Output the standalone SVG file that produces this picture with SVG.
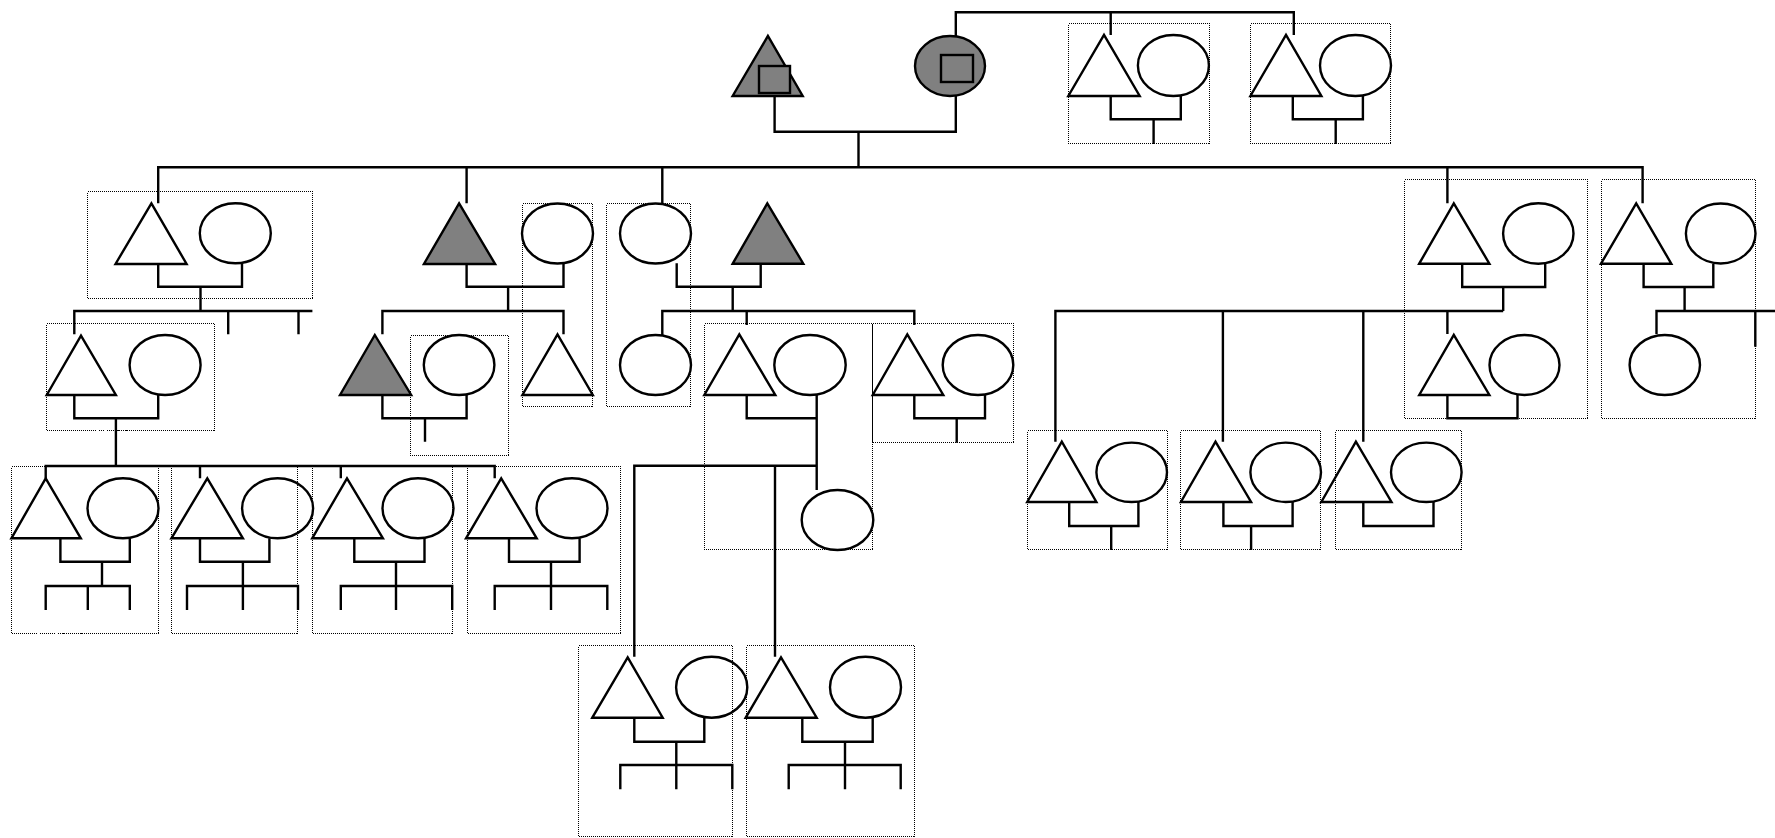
<svg xmlns="http://www.w3.org/2000/svg" width="1775" height="838" viewBox="0 0 1775 838">
<style>
.m{fill:none;stroke:#000;stroke-width:2.4;stroke-linejoin:miter}
.f{fill:#808080;stroke:#000;stroke-width:2.4}
.l{fill:none;stroke:#000;stroke-width:2.4;stroke-linecap:butt}
.d{fill:none;stroke:#000;stroke-width:1;stroke-dasharray:1 1;shape-rendering:crispEdges}
</style>
<rect width="1775" height="838" fill="#fff"/>
<g id="connectors" class="l">
<path d="M774.6,96 V131.7 H955.8 V96 M858.5,131.7 V167.3"/>
<path d="M955.8,36 V12.3 H1293.8 V35 M1110.7,12.3 V35"/>
<path d="M1110.7,96 V119.3 H1180.8 V96 M1153.6,119.3 V144"/>
<path d="M1292.8,96 V119.3 H1362.9 V96 M1335.7,119.3 V144"/>
<path d="M158.2,203.3 V167.3 H1642.6 V203.3 M466.6,167.3 V203.3 M662.3,167.3 V203.3 M1447.4,167.3 V203.3"/>
<path d="M158.2,264 V286.7 H242 V263.3 M200.5,286.7 V311"/>
<path d="M74.3,334.3 V311 H312.4 M228.2,311 V334.3 M298.5,311 V334.3"/>
<path d="M74.3,395 V418.3 H158.2 V395 M115.9,418.3 V466"/>
<path d="M45.7,478.3 V466 H494.7 V478.3 M200,466 V478.3 M340.8,466 V478.3"/>
<path d="M60.4,538.3 V561.7 H129.8 V538.3 M102,561.7 V586 M45.7,610 V586 H129.8 V610 M87.8,586 V610"/>
<path d="M200,538.3 V561.7 H269.4 V538.3 M242.9,561.7 V610 M187,610 V586 H298 V610"/>
<path d="M354.3,538.3 V561.7 H424.5 V538.3 M396,561.7 V610 M340.8,610 V586 H452.2 V610"/>
<path d="M509,538.3 V561.7 H579.6 V538.3 M551,561.7 V610 M494.7,610 V586 H607.3 V610"/>
<path d="M466.6,264 V286.7 H563.5 V263.3 M508.1,286.7 V311 M382.4,334.3 V311 H563.5 V334.3"/>
<path d="M382.4,395 V418.3 H466.6 V395 M425,418.3 V441.7"/>
<path d="M676.7,263.3 V286.7 H760.7 V263.7 M732.7,286.7 V311 M662.3,335 V311 H914.3 V325 M746.7,311 V325"/>
<path d="M746.7,395 V418.3 H816.7 M816.7,395 V490 M634.3,656.7 V465.7 H816.7 M775,465.7 V656.7"/>
<path d="M914.3,395 V418.3 H985 V395 M956.7,418.3 V442.7"/>
<path d="M634.3,717.7 V741.7 H704.3 V717.7 M676.3,741.7 V765 M620.3,789.3 V765 H732.3 V789.3 M676.3,765 V789.3"/>
<path d="M802.3,717.7 V741.7 H872.7 V717.7 M845,741.7 V789.3 M788.7,789.3 V765 H900.7 V789.3"/>
<path d="M1462.2,263.7 V287 H1545.2 V263.7 M1503.2,287 V311 M1055.4,441.7 V311 H1503.2 M1222.9,311 V441.7 M1363.3,311 V441.7 M1447.4,311 V334"/>
<path d="M1447.4,395 V418.3 H1517.5 V395"/>
<path d="M1643.6,263.7 V287 H1713.3 V263.7 M1684.6,287 V311 M1656.5,334 V311 H1775 M1755.3,311 V346.7"/>
<path d="M1069.2,502 V526 H1138.4 V502 M1111.2,526 V550"/>
<path d="M1223.4,502 V526 H1292.6 V502 M1251.1,526 V550"/>
<path d="M1363.3,502 V526 H1433.5 V502"/>
</g>
<g id="g1-father"><polygon class="f" points="732.6,96 767.9,36 802.7,96"/><rect class="f" x="759" y="66" width="31" height="27"/></g>
<g id="g1-mother"><ellipse class="f" cx="950" cy="66" rx="35" ry="30"/><rect class="f" x="941" y="55" width="32" height="27"/></g>
<g id="m-bro1"><polygon class="m" points="1068.3,96 1104,35 1139.7,96"/></g>
<g id="m-bro1-wife"><ellipse class="m" cx="1173.4" cy="65.5" rx="35.5" ry="30.5"/></g>
<g id="m-bro2"><polygon class="m" points="1250.4,96 1286,35 1321.4,96"/></g>
<g id="m-bro2-wife"><ellipse class="m" cx="1355.5" cy="65.5" rx="35.5" ry="30.5"/></g>
<g id="c1"><polygon class="m" points="115.5,264 151.4,203.3 186.6,264"/></g>
<g id="c1-wife"><ellipse class="m" cx="235.3" cy="233.3" rx="35.5" ry="30"/></g>
<g id="c1-son"><polygon class="m" points="46.7,395 81,335.7 115.9,395"/></g>
<g id="c1-son-wife"><ellipse class="m" cx="165.1" cy="365" rx="35.5" ry="30"/></g>
<g id="gs1"><polygon class="m" points="11.4,538.3 45.7,478.3 80.8,538.3"/></g>
<g id="gs1-wife"><ellipse class="m" cx="123" cy="508.3" rx="35.5" ry="30"/></g>
<g id="gs2"><polygon class="m" points="171.4,538.3 207.3,478.3 242.9,538.3"/></g>
<g id="gs2-wife"><ellipse class="m" cx="277.6" cy="508.3" rx="35.5" ry="30"/></g>
<g id="gs3"><polygon class="m" points="312.2,538.3 347,478.3 382.9,538.3"/></g>
<g id="gs3-wife"><ellipse class="m" cx="418" cy="508.3" rx="35.5" ry="30"/></g>
<g id="gs4"><polygon class="m" points="466,538.3 501.2,478.3 536.7,538.3"/></g>
<g id="gs4-wife"><ellipse class="m" cx="572" cy="508.3" rx="35.5" ry="30"/></g>
<g id="c2"><polygon class="f" points="423.9,264 459.1,203.3 495.1,264"/></g>
<g id="c2-wife"><ellipse class="m" cx="557.5" cy="233.5" rx="35.5" ry="30"/></g>
<g id="c2-son1"><polygon class="f" points="340,395 374.8,335 411.2,395"/></g>
<g id="c2-son1-wife"><ellipse class="m" cx="459.1" cy="365" rx="35.3" ry="30"/></g>
<g id="c2-son2"><polygon class="m" points="522.4,395 557.5,334.5 592.8,395"/></g>
<g id="c3"><ellipse class="m" cx="655.5" cy="233.5" rx="35.5" ry="30"/></g>
<g id="c3-husband"><polygon class="f" points="732.7,263.7 767.3,203.3 803.3,263.7"/></g>
<g id="c3-dau"><ellipse class="m" cx="655.5" cy="365" rx="35.5" ry="30"/></g>
<g id="c3-son1"><polygon class="m" points="704.3,395 739.3,334.3 775.3,395"/></g>
<g id="c3-son1-wife"><ellipse class="m" cx="810" cy="365" rx="35.7" ry="30"/></g>
<g id="c3-son1-dau"><ellipse class="m" cx="837.5" cy="520" rx="35.8" ry="30"/></g>
<g id="c3-son2"><polygon class="m" points="872.7,395 907.3,334.3 943.3,395"/></g>
<g id="c3-son2-wife"><ellipse class="m" cx="978" cy="365" rx="35.3" ry="30"/></g>
<g id="ggs1"><polygon class="m" points="592.3,717.7 627.7,657.3 662.7,717.7"/></g>
<g id="ggs1-wife"><ellipse class="m" cx="711.7" cy="687.2" rx="35.6" ry="30.5"/></g>
<g id="ggs2"><polygon class="m" points="745.7,717.7 781,657.3 816.7,717.7"/></g>
<g id="ggs2-wife"><ellipse class="m" cx="865.5" cy="687.2" rx="35.5" ry="30.5"/></g>
<g id="c4"><polygon class="m" points="1419.2,263.7 1453.8,203.3 1489.4,263.7"/></g>
<g id="c4-wife"><ellipse class="m" cx="1538.3" cy="233.5" rx="35.2" ry="30.2"/></g>
<g id="c4-son1"><polygon class="m" points="1419.2,395 1453.8,335 1489.4,395"/></g>
<g id="c4-son1-wife"><ellipse class="m" cx="1524.5" cy="365" rx="35" ry="30"/></g>
<g id="c4-son2"><polygon class="m" points="1027.2,502 1061.8,441.7 1096.4,502"/></g>
<g id="c4-son2-wife"><ellipse class="m" cx="1131.7" cy="472.3" rx="35.3" ry="29.7"/></g>
<g id="c4-son3"><polygon class="m" points="1180.9,502 1215.5,441.7 1251.1,502"/></g>
<g id="c4-son3-wife"><ellipse class="m" cx="1285.7" cy="472.3" rx="35.3" ry="29.7"/></g>
<g id="c4-son4"><polygon class="m" points="1321.3,502 1355.9,441.7 1391.5,502"/></g>
<g id="c4-son4-wife"><ellipse class="m" cx="1426.3" cy="472.3" rx="35.3" ry="29.7"/></g>
<g id="c5"><polygon class="m" points="1601,263.7 1636.2,203.3 1671.3,263.7"/></g>
<g id="c5-wife"><ellipse class="m" cx="1720.7" cy="233.5" rx="34.8" ry="30"/></g>
<g id="c5-dau"><ellipse class="m" cx="1664.8" cy="365" rx="35.2" ry="30"/></g>
<g id="households" class="d">
<rect x="1068.5" y="23.5" width="141" height="120"/>
<rect x="1250.5" y="23.5" width="140" height="120"/>
<rect x="87.5" y="191.5" width="225" height="107"/>
<rect x="46.5" y="323.5" width="168" height="107"/>
<rect x="11.5" y="466.5" width="147" height="167"/>
<rect x="171.5" y="466.5" width="126" height="167"/>
<rect x="312.5" y="466.5" width="140" height="167"/>
<rect x="467.5" y="466.5" width="153" height="167"/>
<rect x="522.5" y="203.5" width="70" height="203"/>
<rect x="410.5" y="335.5" width="98" height="120"/>
<rect x="606.5" y="203.5" width="84" height="203"/>
<rect x="704.5" y="323.5" width="168" height="226"/>
<rect x="872.5" y="323.5" width="141" height="119"/>
<rect x="578.5" y="645.5" width="154" height="191"/>
<rect x="746.5" y="645.5" width="168" height="191"/>
<rect x="1404.5" y="179.5" width="183" height="239"/>
<rect x="1601.5" y="179.5" width="154" height="239"/>
<rect x="1027.5" y="430.5" width="140" height="119"/>
<rect x="1180.5" y="430.5" width="140" height="119"/>
<rect x="1335.5" y="430.5" width="126" height="119"/>
</g>
</svg>
